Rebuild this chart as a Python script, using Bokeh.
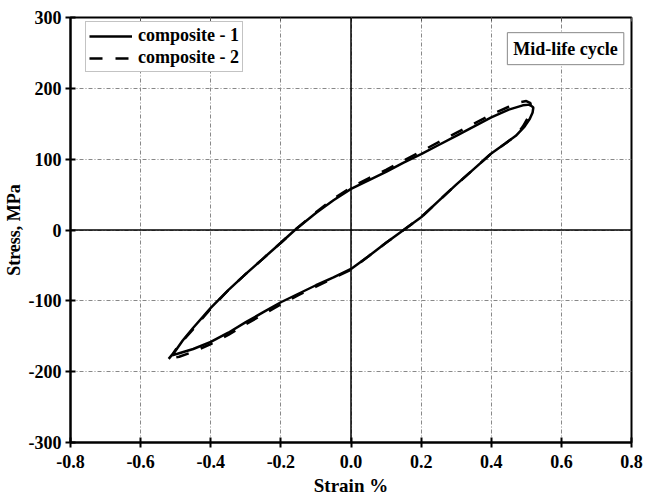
from bokeh.plotting import figure
from bokeh.models import Span, Label, Legend, LegendItem, LinearAxis, Range1d, FixedTicker
from bokeh.embed import file_html
from bokeh.resources import INLINE

# composite-1 (solid) loop: upper (loading) branch then lower (unloading) branch
c1_x = [-0.51, -0.50, -0.48, -0.45, -0.40, -0.35, -0.30, -0.25, -0.20, -0.16, -0.10, -0.05, 0.00,
        0.05, 0.10, 0.15, 0.20, 0.25, 0.30, 0.35, 0.40, 0.45, 0.49, 0.51, 0.52,
        0.518, 0.51, 0.495, 0.47, 0.44, 0.40, 0.35, 0.30, 0.25, 0.20, 0.15, 0.10, 0.05, 0.00,
        -0.05, -0.10, -0.15, -0.20, -0.25, -0.30, -0.35, -0.40, -0.45, -0.49, -0.51]
c1_y = [-177, -170, -156, -138, -110, -85, -62, -40, -18, 0, 24, 42, 58,
        70, 82, 95, 107, 120, 133, 146, 159, 170, 176, 177, 173,
        166, 157, 146, 133, 122, 108, 86, 64, 41, 18, 0, -18, -37, -55,
        -67, -78, -90, -102, -116, -130, -145, -158, -168, -174, -177]

# composite-2 (dashed) loop
c2_x = [-0.52, -0.51, -0.49, -0.45, -0.40, -0.35, -0.30, -0.25, -0.20, -0.16, -0.10, -0.05, 0.00,
        0.05, 0.10, 0.15, 0.20, 0.25, 0.30, 0.35, 0.40, 0.45, 0.48, 0.50, 0.512,
        0.512, 0.505, 0.49, 0.47, 0.44, 0.40, 0.35, 0.30, 0.25, 0.20, 0.15, 0.10, 0.05, 0.00,
        -0.05, -0.10, -0.15, -0.20, -0.25, -0.30, -0.35, -0.40, -0.45, -0.49, -0.52]
c2_y = [-182, -176, -162, -140, -111, -85, -62, -40, -18, 0, 25, 44, 60,
        73, 85, 98, 111, 124, 137, 150, 163, 174, 180, 182, 179,
        170, 159, 146, 133, 122, 108, 86, 64, 41, 18, 0, -18, -37, -56,
        -68, -80, -92, -105, -119, -133, -148, -161, -172, -179, -182]

x_ticks = [-0.8, -0.6, -0.4, -0.2, 0.0, 0.2, 0.4, 0.6, 0.8]
y_ticks = [-300, -200, -100, 0, 100, 200, 300]
legend_labels = ["composite - 1", "composite - 2"]
note_text = "Mid-life cycle"
x_label = "Strain %"
y_label = "Stress, MPa"

FONT = "Liberation Serif"

p = figure(width=649, height=502, output_backend="svg", toolbar_location=None,
           x_range=Range1d(-0.8, 0.8), y_range=Range1d(-300, 300),
           min_border_left=70, min_border_right=18, min_border_top=17, min_border_bottom=60)

p.outline_line_color = "black"
p.outline_line_width = 2

for ax, lab in ((p.xaxis[0], x_label), (p.yaxis[0], y_label)):
    ax.axis_label = lab
    ax.axis_label_text_font = FONT
    ax.axis_label_text_font_style = "bold"
    ax.axis_label_text_font_size = "18px"
    ax.axis_label_text_color = "black"
    ax.major_label_text_font = FONT
    ax.major_label_text_font_style = "bold"
    ax.major_label_text_font_size = "18px"
    ax.major_label_text_color = "black"
    ax.axis_line_width = 2
    ax.major_tick_line_width = 2
    ax.major_tick_in = 5
    ax.major_tick_out = 5
    ax.minor_tick_line_color = None
    ax.minor_tick_out = 0
    ax.minor_tick_in = 0

p.xaxis[0].axis_label_text_font_size = "19px"
p.xaxis[0].axis_label_standoff = 4
p.xaxis[0].major_label_standoff = 7
p.yaxis[0].axis_label_standoff = 2
p.yaxis[0].major_label_standoff = 4

p.xaxis[0].ticker = FixedTicker(ticks=x_ticks)
p.yaxis[0].ticker = FixedTicker(ticks=y_ticks)
p.xaxis[0].major_label_overrides = {t: f"{t:.1f}".replace("-0.0", "0.0") for t in x_ticks}
p.yaxis[0].major_label_overrides = {t: f"{t:d}" for t in y_ticks}

top = LinearAxis(ticker=FixedTicker(ticks=x_ticks),
                 major_label_overrides={t: " " for t in x_ticks},
                 major_label_text_font_size="4px", major_label_standoff=0,
                 major_tick_in=4, major_tick_out=0, minor_tick_line_color=None,
                 axis_line_color=None, major_tick_line_width=1, major_tick_line_color="#555555")
p.add_layout(top, "above")

for g in (p.xgrid[0], p.ygrid[0]):
    g.grid_line_color = "#888888"
    g.grid_line_dash = "4 2 1 2"
    g.grid_line_width = 1
p.xgrid[0].ticker = FixedTicker(ticks=x_ticks)
p.ygrid[0].ticker = FixedTicker(ticks=y_ticks)

p.add_layout(Span(location=0, dimension="height", line_color="black", line_width=1.5))
p.add_layout(Span(location=0, dimension="width", line_color="black", line_width=1.5))

r1 = p.line(c1_x, c1_y, line_color="black", line_width=2.5)
r2 = p.line(c2_x, c2_y, line_color="black", line_width=2.5, line_dash="13 13")

legend = Legend(items=[LegendItem(label=legend_labels[0], renderers=[r1]),
                       LegendItem(label=legend_labels[1], renderers=[r2])],
                location=(15, 370), label_text_font=FONT, label_text_font_style="bold",
                label_text_font_size="18px", label_text_color="black",
                glyph_width=43, glyph_height=18,
                label_height=18, spacing=1, padding=3, margin=0, label_standoff=6,
                border_line_color="#888888", border_line_width=1,
                background_fill_alpha=1)
p.add_layout(legend)

p.add_layout(Label(x=0.612, y=256, text=note_text, text_font=FONT, text_font_style="bold",
                   text_font_size="18px", text_align="center", text_baseline="middle",
                   text_color="black",
                   border_line_color="#888888", background_fill_color="white", padding=6))

open("out.html", "w").write(file_html(p, INLINE))
